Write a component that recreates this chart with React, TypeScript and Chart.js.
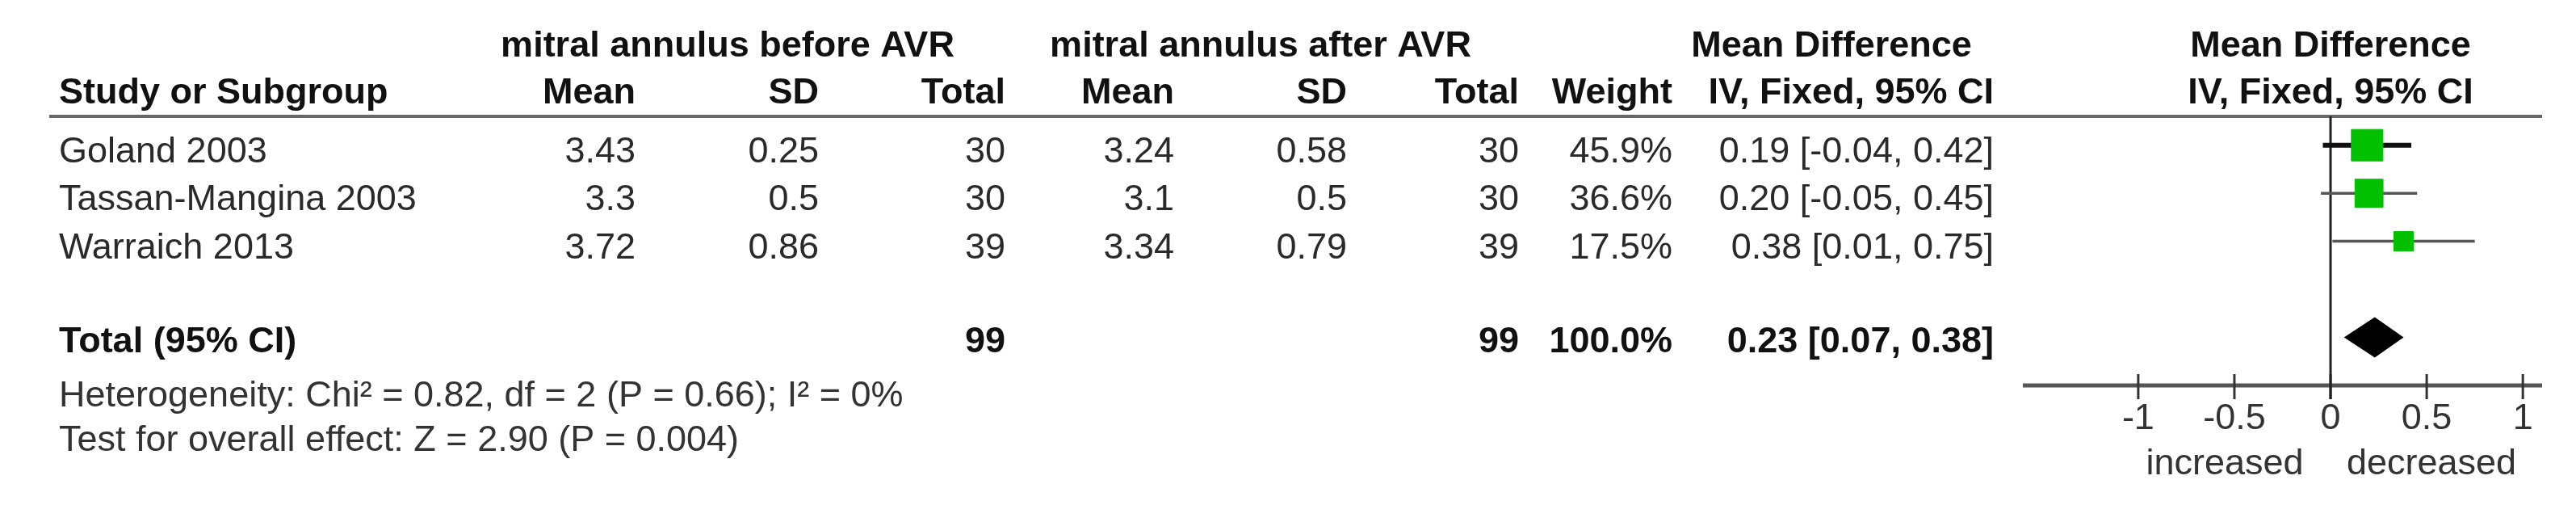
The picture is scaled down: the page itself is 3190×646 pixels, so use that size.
import React, { useEffect, useRef } from "react";
import { Chart, registerables } from "chart.js";

Chart.register(...registerables);

// ---------- data ----------
const studies = ["Goland 2003", "Tassan-Mangina 2003", "Warraich 2013"];
const beforeMean = [3.43, 3.3, 3.72];
const beforeSD = [0.25, 0.5, 0.86];
const beforeN = [30, 30, 39];
const afterMean = [3.24, 3.1, 3.34];
const afterSD = [0.58, 0.5, 0.79];
const afterN = [30, 30, 39];
const weights = [45.9, 36.6, 17.5];
const meanDiff = [0.19, 0.2, 0.38];
const ciLow = [-0.04, -0.05, 0.01];
const ciHigh = [0.42, 0.45, 0.75];

const totalBeforeN = 99;
const totalAfterN = 99;
const totalWeight = 100.0;
const pooledMD = 0.23;
const pooledLow = 0.07;
const pooledHigh = 0.38;

const xTicks = [-1, -0.5, 0, 0.5, 1];
const favourLabels = ["increased", "decreased"];
const heterogeneityText = "Heterogeneity: Chi\u00B2 = 0.82, df = 2 (P = 0.66); I\u00B2 = 0%";
const overallText = "Test for overall effect: Z = 2.90 (P = 0.004)";

// ---------- styles ----------
const FONT = '"Liberation Sans", Arial, Helvetica, sans-serif';
const FS = 45;
const whiskerColors = ["#111111", "#555555", "#555555"];
const whiskerWidths = [6, 3.5, 3.5];
const boxColor = "#00C000";

export default function App() {
  const ref = useRef<HTMLCanvasElement>(null);

  useEffect(() => {
    const canvas = ref.current;
    if (!canvas) return;

    const forestPlugin = {
      id: "forestDecor",
      beforeDatasetsDraw(chart: any) {
        const ctx = chart.ctx;
        const xs = chart.scales.x;
        const ys = chart.scales.y;
        const ca = chart.chartArea;
        const x0 = xs.getPixelForValue(0);
        ctx.save();
        // header rule
        ctx.strokeStyle = "#666";
        ctx.lineWidth = 4;
        ctx.beginPath();
        ctx.moveTo(61, ca.top);
        ctx.lineTo(ca.right, ca.top);
        ctx.stroke();
        // axis line
        ctx.strokeStyle = "#555";
        ctx.lineWidth = 5;
        ctx.beginPath();
        ctx.moveTo(ca.left, ca.bottom);
        ctx.lineTo(ca.right, ca.bottom);
        ctx.stroke();
        // tick marks
        ctx.strokeStyle = "#333";
        ctx.lineWidth = 3;
        xs.ticks.forEach((t: any) => {
          const px = xs.getPixelForValue(t.value);
          ctx.beginPath();
          ctx.moveTo(px, ca.bottom - 14);
          ctx.lineTo(px, ca.bottom + 17);
          ctx.stroke();
        });
        // line of no effect
        ctx.strokeStyle = "#222";
        ctx.lineWidth = 3;
        ctx.beginPath();
        ctx.moveTo(x0, ca.top);
        ctx.lineTo(x0, ca.bottom + 17);
        ctx.stroke();
        // pooled diamond
        const dy = ys.getPixelForValue(studies.length + 1);
        const h = 25;
        ctx.fillStyle = "#000";
        ctx.beginPath();
        ctx.moveTo(xs.getPixelForValue(pooledLow), dy);
        ctx.lineTo(xs.getPixelForValue(pooledMD), dy - h);
        ctx.lineTo(xs.getPixelForValue(pooledHigh), dy);
        ctx.lineTo(xs.getPixelForValue(pooledMD), dy + h);
        ctx.closePath();
        ctx.fill();
        ctx.restore();
      },
      afterDraw(chart: any) {
        const ctx = chart.ctx;
        const xs = chart.scales.x;
        const ys = chart.scales.y;
        const x0 = xs.getPixelForValue(0);
        ctx.save();
        ctx.textBaseline = "alphabetic";
        const txt = (s: string, x: number, y: number, align: CanvasTextAlign, bold = false, color?: string) => {
          ctx.font = `${bold ? "bold " : ""}${FS}px ${FONT}`;
          ctx.textAlign = align;
          ctx.fillStyle = color || (bold ? "#111" : "#2a2a2a");
          ctx.fillText(s, x, y);
        };
        // header line 1
        const h1 = 70;
        txt("mitral annulus before AVR", 901, h1, "center", true);
        txt("mitral annulus after AVR", 1561, h1, "center", true);
        txt("Mean Difference", 2268, h1, "center", true);
        txt("Mean Difference", x0, h1, "center", true);
        // header line 2
        const h2 = 128;
        txt("Study or Subgroup", 73, h2, "left", true);
        txt("Mean", 787, h2, "right", true);
        txt("SD", 1014, h2, "right", true);
        txt("Total", 1245, h2, "right", true);
        txt("Mean", 1454, h2, "right", true);
        txt("SD", 1668, h2, "right", true);
        txt("Total", 1881, h2, "right", true);
        txt("Weight", 2071, h2, "right", true);
        txt("IV, Fixed, 95% CI", 2469, h2, "right", true);
        txt("IV, Fixed, 95% CI", x0, h2, "center", true);
        // study rows
        studies.forEach((s, i) => {
          const yb = ys.getPixelForValue(i) + 21;
          txt(s, 73, yb, "left");
          txt(String(beforeMean[i]), 787, yb, "right");
          txt(String(beforeSD[i]), 1014, yb, "right");
          txt(String(beforeN[i]), 1245, yb, "right");
          txt(String(afterMean[i]), 1454, yb, "right");
          txt(String(afterSD[i]), 1668, yb, "right");
          txt(String(afterN[i]), 1881, yb, "right");
          txt(weights[i].toFixed(1) + "%", 2071, yb, "right");
          txt(
            `${meanDiff[i].toFixed(2)} [${ciLow[i].toFixed(2)}, ${ciHigh[i].toFixed(2)}]`,
            2469,
            yb,
            "right"
          );
        });
        // total row
        const yt = ys.getPixelForValue(studies.length + 1) + 18;
        txt("Total (95% CI)", 73, yt, "left", true);
        txt(String(totalBeforeN), 1245, yt, "right", true);
        txt(String(totalAfterN), 1881, yt, "right", true);
        txt(totalWeight.toFixed(1) + "%", 2071, yt, "right", true);
        txt(`${pooledMD.toFixed(2)} [${pooledLow.toFixed(2)}, ${pooledHigh.toFixed(2)}]`, 2469, yt, "right", true);
        // footnotes
        txt(heterogeneityText, 73, 503, "left", false, "#333");
        txt(overallText, 73, 558, "left", false, "#333");
        // favour labels
        txt(favourLabels[0], xs.getPixelForValue(-0.55), 587, "center", false, "#333");
        txt(favourLabels[1], xs.getPixelForValue(0.525), 587, "center", false, "#333");
        ctx.restore();
      },
    };

    const whiskerSets = studies.map((s, i) => ({
      label: s + " CI",
      data: [
        { x: ciLow[i], y: i },
        { x: ciHigh[i], y: i },
      ],
      showLine: true,
      borderColor: whiskerColors[i],
      borderWidth: whiskerWidths[i],
      pointRadius: 0,
      order: 1,
    }));

    const chart = new Chart(canvas, {
      type: "scatter",
      data: {
        datasets: [
          {
            label: "Mean difference",
            data: studies.map((_, i) => ({ x: meanDiff[i], y: i })),
            pointStyle: "rect",
            pointRadius: weights.map((w) => (5.75 * Math.sqrt(w)) / Math.SQRT2),
            backgroundColor: boxColor,
            borderColor: boxColor,
            borderWidth: 1,
            order: 0,
          },
          ...whiskerSets,
        ] as any,
      },
      plugins: [forestPlugin],
      options: {
        animation: false,
        responsive: true,
        maintainAspectRatio: false,
        events: [],
        layout: { padding: { left: 2505, right: 42, top: 144, bottom: 0 } },
        plugins: { legend: { display: false }, tooltip: { enabled: false } },
        scales: {
          x: {
            type: "linear",
            position: "bottom",
            min: -1.6,
            max: 1.1,
            afterBuildTicks: (s: any) => {
              s.ticks = xTicks.map((v) => ({ value: v }));
            },
            afterFit: (s: any) => {
              s.height = 169;
            },
            grid: { display: false, drawTicks: false },
            border: { display: false },
            ticks: {
              autoSkip: false,
              maxRotation: 0,
              padding: 15,
              color: "#333",
              font: { family: FONT, size: FS, lineHeight: 1.2 },
              callback: (v: any) => String(v),
            },
          },
          y: {
            type: "linear",
            display: false,
            reverse: true,
            min: -0.6,
            max: 5,
          },
        },
      } as any,
    });

    return () => chart.destroy();
  }, []);

  return (
    <div style={{ position: "absolute", left: 0, top: 0, width: 3190, height: 646, background: "#fff" }}>
      <canvas ref={ref} />
    </div>
  );
}
